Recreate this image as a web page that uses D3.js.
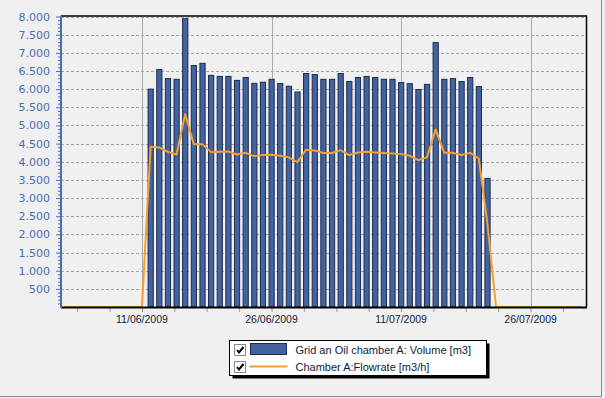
<!DOCTYPE html>
<html>
<head>
<meta charset="utf-8">
<script src="https://cdn.jsdelivr.net/npm/d3@7"></script>
<style>
  body { margin: 0; background: #f0f0f0; }
  svg { display: block; }
</style>
</head>
<body>
<div id="chart"></div>
<script>
// size of the whole picture and where the plot box sits
var width = 605, height = 398;
var margin = {top: 16.5, right: 19, bottom: 91, left: 61};

// daily volume bars, 12/06/2009 .. 21/07/2009
var volumeStart = "12/06/2009";
var volumeValues = [6000, 6540, 6290, 6270, 7940, 6650, 6710, 6380, 6350, 6350,
                    6240, 6320, 6160, 6190, 6270, 6155, 6080, 5920, 6430, 6400,
                    6270, 6270, 6430, 6210, 6320, 6350, 6320, 6270, 6270, 6180,
                    6150, 5990, 6130, 7280, 6270, 6290, 6210, 6320, 6070, 3540];

// daily flowrate line, 02/06/2009 .. 01/08/2009
var flowStart = "02/06/2009";
var flowValues = [0, 0, 0, 0, 0, 0, 0, 0, 0, 0,
                  4410, 4395, 4275, 4200, 5310, 4485, 4485, 4265, 4275, 4285,
                  4200, 4245, 4155, 4185, 4190, 4165, 4120, 3990, 4330, 4310,
                  4240, 4240, 4320, 4185, 4255, 4275, 4255, 4240, 4225, 4210,
                  4165, 4045, 4120, 4890, 4245, 4245, 4185, 4245, 4090, 2300,
                  0, 0, 0, 0, 0, 0, 0, 0, 0, 0, 0];

var xTickLabels = ["11/06/2009", "26/06/2009", "11/07/2009", "26/07/2009"];
var yTickValues = [500, 1000, 1500, 2000, 2500, 3000, 3500, 4000,
                   4500, 5000, 5500, 6000, 6500, 7000, 7500, 8000];
var legendLabels = ["Grid an Oil chamber A: Volume [m3]", "Chamber A:Flowrate [m3/h]"];

var barColor = "#4262a0";
var barStroke = "#1c2c4c";
var lineColor = "#f5a033";
var axisBlue = "#4a6cb8";

var parseDate = d3.timeParse("%d/%m/%Y");
var dayMs = 24 * 3600 * 1000;
var fmt = d3.formatLocale({decimal: ",", thousands: ".", grouping: [3], currency: ["", ""]}).format(",d");

function dayList(start, n) {
    // one date per value, starting at the first day
    return d3.range(n).map(i => new Date(parseDate(start).getTime() + i * dayMs));
}

var svg = d3.select("#chart").append("svg")
    .attr("width", width)
    .attr("height", height);

// outer panel edge, only right and bottom show a line
svg.append("path")
    .attr("d", "M601.5,0V396.5H0")
    .attr("fill", "none")
    .attr("stroke", "#8c8c8c");

var x = d3.scaleTime()
    .domain([new Date(2009, 5, 1, 15), new Date(2009, 7, 1, 10)])
    .range([margin.left, width - margin.right]);

var y = d3.scaleLinear()
    .domain([0, 8000])
    .range([height - margin.bottom, margin.top]);

var x0 = x.range()[0], x1 = x.range()[1];
var y0 = y.range()[0], y1 = y.range()[1];

var majorDates = xTickLabels.map(parseDate);
// 4 minor steps between the labelled dates
var step = (majorDates[1] - majorDates[0]) / 4;
var minorDates = d3.range(-3, 16).map(i => new Date(majorDates[0].getTime() + i * step))
    .filter(d => d >= x.domain()[0] && d <= x.domain()[1]);

// horizontal dashed grid
svg.append("g")
    .selectAll("line")
    .data(yTickValues)
    .enter()
    .append("line")
        .attr("x1", x0).attr("x2", x1)
        .attr("y1", d => Math.round(y(d)) + 0.5)
        .attr("y2", d => Math.round(y(d)) + 0.5)
        .attr("stroke", "#a4a4a4")
        .attr("stroke-dasharray", "3,2");

// vertical solid grid at the labelled dates
svg.append("g")
    .selectAll("line")
    .data(majorDates)
    .enter()
    .append("line")
        .attr("x1", d => Math.round(x(d)) + 0.5)
        .attr("x2", d => Math.round(x(d)) + 0.5)
        .attr("y1", y1).attr("y2", y0)
        .attr("stroke", "#ababab");

// top and right frame
svg.append("path")
    .attr("d", "M" + x0 + "," + (y1 - 0.5) + "H" + (x1 + 0.5) + "V" + y0)
    .attr("fill", "none")
    .attr("stroke", "#000")
    .attr("stroke-width", 1.5);

// volume bars
var bars = svg.append("g");
bars.selectAll("rect")
    .data(d3.zip(dayList(volumeStart, volumeValues.length), volumeValues))
    .enter()
    .append("rect")
        .attr("x", d => x(d[0]) - 2.5)
        .attr("y", d => y(d[1]))
        .attr("width", 5.2)
        .attr("height", d => y0 - y(d[1]))
        .attr("fill", barColor)
        .attr("stroke", barStroke)
        .attr("stroke-width", 1);

// flowrate line
var line = d3.line()
    .x(d => x(d[0]))
    .y(d => y(d[1]));

svg.append("path")
    .datum(d3.zip(dayList(flowStart, flowValues.length), flowValues))
    .attr("d", line)
    .attr("fill", "none")
    .attr("stroke", lineColor)
    .attr("stroke-width", 2)
    .attr("stroke-linejoin", "round");

// bottom axis, black line with small grey ticks
var xAxis = svg.append("g")
    .attr("transform", "translate(0," + (y0 + 1) + ")")
    .call(d3.axisBottom(x)
        .tickValues(minorDates)
        .tickSize(4)
        .tickFormat(""));
xAxis.select(".domain").remove();
xAxis.selectAll(".tick line").attr("stroke", "#9a9a9a");

svg.append("line")
    .attr("x1", x0).attr("x2", x1 + 1)
    .attr("y1", y0 + 0.5).attr("y2", y0 + 0.5)
    .attr("stroke", "#000")
    .attr("stroke-width", 2);

svg.append("g")
    .selectAll("text")
    .data(majorDates)
    .enter()
    .append("text")
        .attr("x", d => x(d))
        .attr("y", y0 + 16)
        .attr("text-anchor", "middle")
        .attr("font-family", "Liberation Sans, Arial, sans-serif")
        .attr("font-size", "10.5px")
        .attr("fill", "#0e1d3a")
        .text((d, i) => xTickLabels[i]);

// left axis in blue, minor ticks every 100
var minorY = d3.range(100, 8001, 100).filter(v => v % 500 != 0);
var yMinor = svg.append("g")
    .attr("transform", "translate(" + (x0 - 1) + ",0)")
    .call(d3.axisLeft(y).tickValues(minorY).tickSize(2).tickFormat(""));
yMinor.select(".domain").remove();
yMinor.selectAll(".tick line").attr("stroke", axisBlue);

var yAxis = svg.append("g")
    .attr("transform", "translate(" + (x0 - 1) + ",0)")
    .call(d3.axisLeft(y).tickValues(yTickValues).tickSize(4).tickPadding(6).tickFormat(fmt));
yAxis.select(".domain").remove();
yAxis.selectAll(".tick line").attr("stroke", axisBlue);
yAxis.selectAll(".tick text")
    .attr("fill", axisBlue)
    .attr("font-family", "DejaVu Sans, Verdana, sans-serif")
    .attr("font-size", "11px");

svg.append("line")
    .attr("x1", x0).attr("x2", x0)
    .attr("y1", y1 - 1).attr("y2", y0 + 1)
    .attr("stroke", axisBlue)
    .attr("stroke-width", 2);

// legend box with shadow
var legend = svg.append("g").attr("transform", "translate(229.5,340.5)");
legend.append("rect")
    .attr("x", 3).attr("y", 3)
    .attr("width", 257).attr("height", 35)
    .attr("fill", "#000");
legend.append("rect")
    .attr("width", 257).attr("height", 35)
    .attr("fill", "#fff")
    .attr("stroke", "#000");

legendLabels.forEach(function (label, i) {
    var row = legend.append("g").attr("transform", "translate(0," + (i * 17) + ")");
    // checkbox
    row.append("rect")
        .attr("x", 5).attr("y", 4)
        .attr("width", 11).attr("height", 11)
        .attr("fill", "#fff")
        .attr("stroke", "#8a8a8a");
    row.append("path")
        .attr("d", "M7.5,9.5 L9.5,12 L14,6.5")
        .attr("fill", "none")
        .attr("stroke", "#000")
        .attr("stroke-width", 2);
    if (i == 0) {
        row.append("rect")
            .attr("x", 21).attr("y", 3)
            .attr("width", 36).attr("height", 11)
            .attr("fill", barColor)
            .attr("stroke", barStroke);
    } else {
        row.append("line")
            .attr("x1", 20).attr("x2", 58)
            .attr("y1", 9).attr("y2", 9)
            .attr("stroke", lineColor)
            .attr("stroke-width", 2);
    }
    row.append("text")
        .attr("x", 66).attr("y", 13)
        .attr("font-family", "Liberation Sans, Arial, sans-serif")
        .attr("font-size", "11px")
        .attr("fill", "#0e1d3a")
        .text(label);
});
</script>
</body>
</html>
